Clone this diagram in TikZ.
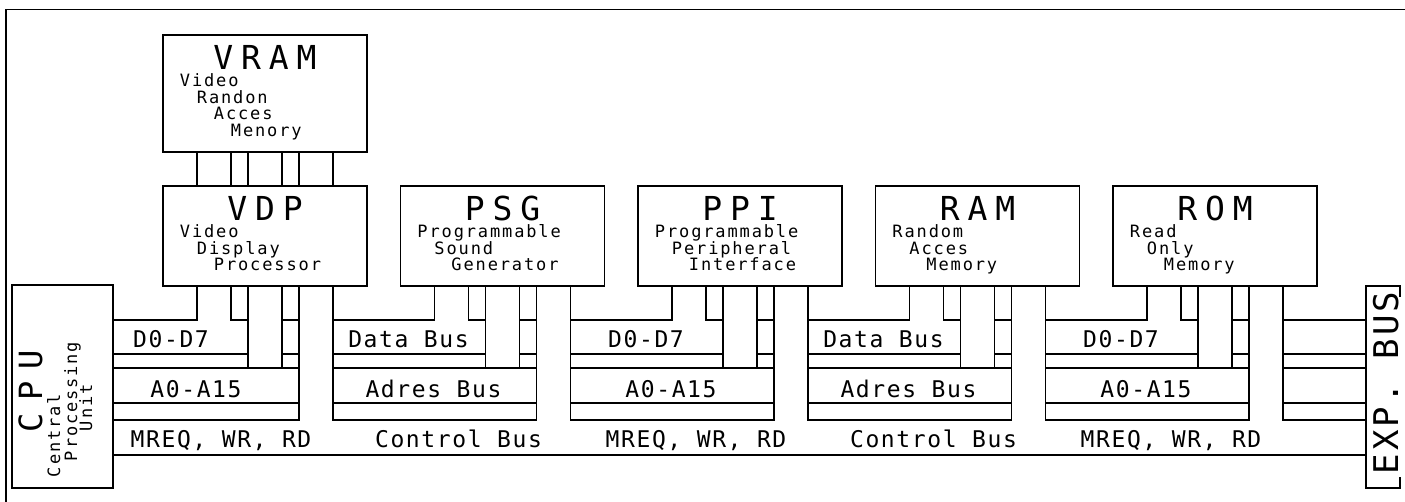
\documentclass[tikz,border=0pt]{standalone}
\usepackage{fontspec}
\usetikzlibrary{positioning,calc}
\newfontfamily\plotfont{DejaVu Sans Mono}[LetterSpace=7]
\newfontfamily\plotsub{DejaVu Sans Mono}[LetterSpace=11]
\newfontfamily\plotwide{DejaVu Sans Mono}[LetterSpace=24]
\newfontfamily\plotcpu{DejaVu Sans Mono}[LetterSpace=38]
\newfontfamily\plotexp{DejaVu Sans Mono}[LetterSpace=9]

\begin{document}
\begin{tikzpicture}[x=1pt,y=-1pt,line width=1.9pt,line cap=rect,
  chip/.style={draw,minimum width=204pt,minimum height=100pt,inner sep=0,outer sep=0},
  chiplbl/.style={font=\plotwide\fontsize{33}{33}\selectfont,inner sep=0,anchor=north},
  subtxt/.style={font=\plotsub\fontsize{17}{17}\selectfont,inner sep=0,anchor=base west},
  buslbl/.style={font=\plotfont\fontsize{23}{23}\selectfont,inner sep=0,anchor=base}]
\useasboundingbox (0,0) rectangle (1405,501);
% frame
\draw (6,501) -- (6,9.5) -- (1405,9.5);

% chips
\node[chip] (vdp) at (265,236) {};
\node[chip,right=33.5pt of vdp] (psg) {};
\node[chip,right=33.5pt of psg] (ppi) {};
\node[chip,right=33.5pt of ppi] (ram) {};
\node[chip,right=33.5pt of ram] (rom) {};
\node[chip,minimum height=117pt,above=34pt of vdp] (vram) {};
\node[draw,minimum width=101pt,minimum height=203pt,inner sep=0,outer sep=0] (cpu) at (62.5,386.5) {};
\node[minimum width=34pt,minimum height=202pt,inner sep=0,outer sep=0] (exp) at (1383,387) {};
\draw (exp.north east) -- (exp.north west) -- (exp.south west) -- (exp.south east);
\draw (exp.north east) -- ++(0,10) (exp.south east) -- ++(0,-10);

% chip names and staircase texts
\foreach \c/\t/\l in {vram/VRAM/{Video,Randon,Acces,Menory},
    vdp/VDP/{Video,Display,Processor},
    psg/PSG/{Programmable,Sound,Generator},
    ppi/PPI/{Programmable,Peripheral,Interface},
    ram/RAM/{Random,Acces,Memory},
    rom/ROM/{Read,Only,Memory}} {
  \node[chiplbl] (\c-n) at ($(\c.north)+(0,9)$) {\t};
  \foreach \w [count=\i] in \l
    \node[subtxt] (\c-t\i) at ($(\c.north west)+({17*\i-1},{35+16.5*\i})$) {\w};
}
\node[font=\plotcpu\fontsize{32}{32}\selectfont,rotate=90,anchor=base west,inner sep=0] (cpu-n) at (42,433) {CPU};
\node[subtxt,rotate=90] (cpu-t1) at (60,478) {Central};
\node[subtxt,rotate=90] (cpu-t2) at (77,462) {Processing};
\node[subtxt,rotate=90] (cpu-t3) at (92,432) {Unit};
\node[font=\plotexp\fontsize{34}{34}\selectfont,rotate=90,anchor=base west,inner sep=0] (exp-n) at (1398,475) {EXP. BUS};

% legs and bus levels
\foreach \c in {vdp,psg,ppi,ram,rom}
  \foreach \o [count=\i] in {34,68,85,119,136,170}
    \coordinate (\c-\i) at ($(\c.south west)+(\o,0)$);
\coordinate (d1) at (0,320); \coordinate (d2) at (0,354);
\coordinate (a1) at (0,368); \coordinate (a2) at (0,403);
\coordinate (c1) at (0,420); \coordinate (c2) at (0,455);

\foreach \i in {1,...,6}
  \draw (vdp-\i |- vram.south) -- (vdp-\i |- vdp.north);

% bus sections
\foreach \c/\p/\d/\a/\k in {vdp/cpu.east/{D0-D7}/{A0-A15}/{MREQ, WR, RD},
    psg/vdp-6/{Data Bus}/{Adres Bus}/{Control Bus},
    ppi/psg-6/{D0-D7}/{A0-A15}/{MREQ, WR, RD},
    ram/ppi-6/{Data Bus}/{Adres Bus}/{Control Bus},
    rom/ram-6/{D0-D7}/{A0-A15}/{MREQ, WR, RD}} {
  \draw (\c-1) |- (\p |- d1);
  \draw (\c-2) |- (\c-3 |- d1) (\c-3) -- (\c-3 |- a1);
  \draw (\p |- d2) -- (\c-3 |- d2);
  \draw (\c-4) -- (\c-4 |- a1) (\c-4 |- d1) -- (\c-5 |- d1) (\c-4 |- d2) -- (\c-5 |- d2);
  \draw (\c-5) -- (\c-5 |- c1) (\c-6) -- (\c-6 |- c1);
  \foreach \y in {a1,a2,c1}
    \draw (\p |- \y) -- (\c-5 |- \y);
  \node[buslbl] (\c-d) at ($(\c.south west)+(8,61)$) {\d};
  \node[buslbl] (\c-a) at ($(\c.south west)+(33,111)$) {\a};
  \node[buslbl] (\c-k) at ($(\c.south west)+(58,161)$) {\k};
}
\foreach \y in {d1,d2,a1,a2,c1}
  \draw (rom-6 |- \y) -- (exp.west |- \y);
\draw (cpu.east |- c2) -- (exp.west |- c2);
\end{tikzpicture}
\end{document}
